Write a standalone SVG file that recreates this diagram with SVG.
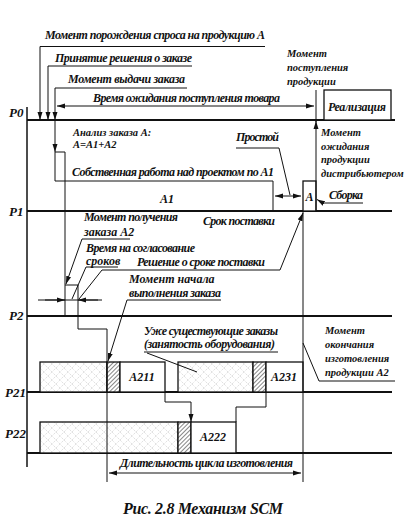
<svg xmlns="http://www.w3.org/2000/svg" width="416" height="523" viewBox="0 0 416 523">
<defs>
<style>
text{font-family:'Liberation Serif','DejaVu Serif',serif;font-style:italic;font-weight:700;font-size:12px;fill:#111}
.s{font-size:10.5px}
.p{font-size:13px}
.cap{font-size:16px}
.ln{stroke:#111;stroke-width:1;fill:none}
.th{stroke:#111;stroke-width:1.8;fill:none}
.ax{stroke:#111;stroke-width:1.5;fill:none}
.box{stroke:#111;stroke-width:1.3;fill:#fff}
.arr{marker-end:url(#ah)}
</style>
<marker id="ah" markerWidth="8" markerHeight="6" refX="8" refY="3" orient="auto" markerUnits="userSpaceOnUse">
<path d="M0,0.5 L8,3 L0,5.5 z" fill="#111"/>
</marker>
<marker id="as" markerWidth="8" markerHeight="6" refX="0" refY="3" orient="auto" markerUnits="userSpaceOnUse">
<path d="M8,0.5 L0,3 L8,5.5 z" fill="#111"/>
</marker>
<pattern id="cross" width="8" height="8" patternUnits="userSpaceOnUse">
<rect width="8" height="8" fill="#fff"/>
<path d="M0,8 L8,0 M0,0 L8,8" stroke="#b8b8b8" stroke-width="0.6" stroke-dasharray="1,1.2"/>
</pattern>
<pattern id="hatch" width="3" height="3" patternUnits="userSpaceOnUse" patternTransform="rotate(45)">
<rect width="3" height="3" fill="#fff"/>
<line x1="0" y1="0" x2="0" y2="3" stroke="#222" stroke-width="1.1"/>
</pattern>
</defs>

<g id="axes">
<line class="ax" x1="27" y1="107" x2="27" y2="467"/>
<line class="th" x1="27" y1="120" x2="395" y2="120"/>
<line class="th" x1="27" y1="211" x2="392" y2="211"/>
<line class="th" x1="27" y1="316" x2="392" y2="316"/>
<line class="th" x1="27" y1="392" x2="392" y2="392"/>
<line class="th" x1="27" y1="453" x2="392" y2="453"/>
<text class="p" x="9" y="117">P0</text>
<text class="p" x="9" y="216">P1</text>
<text class="p" x="9" y="320">P2</text>
<text class="p" x="5" y="397">P21</text>
<text class="p" x="5" y="438">P22</text>
</g>

<g id="n-realizatsiya">
<rect class="box" x="324" y="90" width="67" height="30"/>
<text x="357" y="111" text-anchor="middle" textLength="58">Реализация</text>
</g>

<g id="n-A-block">
<rect class="box" x="303" y="181" width="13" height="30"/>
<text x="305.5" y="201">A</text>
</g>

<g id="n-P21">
<rect x="40" y="362" width="67" height="30" fill="url(#cross)" stroke="#111" stroke-width="1.3"/>
<rect x="107" y="362" width="13" height="30" fill="url(#hatch)" stroke="#111" stroke-width="1.3"/>
<rect class="box" x="120" y="362" width="45" height="30"/>
<text x="142" y="381" text-anchor="middle">A211</text>
<rect x="178" y="362" width="75" height="30" fill="url(#cross)" stroke="#111" stroke-width="1.3"/>
<rect x="253" y="362" width="13" height="30" fill="url(#hatch)" stroke="#111" stroke-width="1.3"/>
<rect class="box" x="266" y="362" width="37" height="30"/>
<text x="284" y="381" text-anchor="middle">A231</text>
</g>

<g id="n-P22">
<rect x="40" y="422" width="138" height="31" fill="url(#cross)" stroke="#111" stroke-width="1.3"/>
<rect x="178" y="422" width="13" height="31" fill="url(#hatch)" stroke="#111" stroke-width="1.3"/>
<rect class="box" x="191" y="422" width="45" height="31"/>
<text x="213" y="441" text-anchor="middle">A222</text>
</g>

<g id="connectors">
<polyline class="ln" points="265,46.5 40,46.5 40,120" style="marker-end:url(#ah)"/>
<polyline class="ln" points="192,66 48,66 48,120" style="marker-end:url(#ah)"/>
<polyline class="ln" points="187,88 55,88 55,120" style="marker-end:url(#ah)"/>
<line class="ln arr" x1="55" y1="120" x2="55" y2="152"/>
<line class="ln" x1="55" y1="152" x2="55" y2="181"/>
<line class="ln" x1="57" y1="106" x2="314" y2="106" style="marker-start:url(#as);marker-end:url(#ah)"/>
<line class="ln" x1="316" y1="90" x2="316" y2="122"/>
<line class="ln arr" x1="316" y1="211" x2="316" y2="121"/>
<polyline class="ln" points="55,181 273,181 273,211"/>
<polyline class="ln" points="55,152 65,152 65,316"/>
<line class="ln" x1="275" y1="196" x2="301" y2="196" style="marker-start:url(#as);marker-end:url(#ah)"/>
<polyline class="ln" points="236,148 279,148 290,195"/>
<polyline class="ln arr" points="363,203 323,203 317,199.5"/>
<line class="ln" x1="303" y1="211" x2="303" y2="482"/>
<polyline class="ln" points="65,285 78,285 78,329 107,329 107,482"/>
<polyline class="ln arr" points="130,239 82,239 66,284"/>
<line class="ln" x1="38" y1="300" x2="102" y2="300"/>
<line class="ln arr" x1="45" y1="300" x2="65" y2="300"/>
<line class="ln arr" x1="98" y1="300" x2="78" y2="300"/>
<polyline class="ln" points="118,267 86,267 72,299"/>
<polyline class="ln arr" points="79,299 102,270 280,270 303,213"/>
<polyline class="ln arr" points="221,300 127,300 108,361"/>
<polyline class="ln arr" points="165,392 165,402 191,402 191,422"/>
<polyline class="ln" points="266,392 266,407 236,407 236,422"/>
<polyline class="ln" points="278,352 144,352"/>
<line class="ln" x1="147" y1="353" x2="197" y2="372"/>
<polyline class="ln" points="395,381 319,381 303,343"/>
<line class="ln" x1="109" y1="473" x2="301" y2="473" style="marker-start:url(#as);marker-end:url(#ah)"/>
</g>

<g id="labels">
<text x="45" y="39" textLength="220">Момент порождения спроса на продукцию А</text>
<text x="55" y="62" textLength="137">Принятие решения о заказе</text>
<text x="68" y="83" textLength="117">Момент выдачи заказа</text>
<text x="93" y="102" textLength="187">Время ожидания поступления товара</text>
<text class="s" x="287" y="57">Момент</text>
<text class="s" x="287" y="71">поступления</text>
<text class="s" x="287" y="85">продукции</text>
<text class="s" x="73" y="136">Анализ заказа A:</text>
<text class="s" x="73" y="148">A=A1+A2</text>
<text x="72" y="176" textLength="202">Собственная работа над проектом по A1</text>
<text x="160" y="203">A1</text>
<text x="236" y="141" textLength="43">Простой</text>
<text class="s" x="321" y="136">Момент</text>
<text class="s" x="321" y="150">ожидания</text>
<text class="s" x="321" y="163">продукции</text>
<text class="s" x="321" y="177">дистрибьютером</text>
<text x="329" y="199" textLength="34">Сборка</text>
<text x="203" y="225" textLength="72">Срок поставки</text>
<text x="84" y="221" textLength="94">Момент получения</text>
<text x="84" y="236">заказа A2</text>
<text x="86" y="252" textLength="109">Время на согласование</text>
<text x="86" y="265">сроков</text>
<text x="137" y="266" textLength="128">Решение о сроке поставки</text>
<text x="129" y="283">Момент начала</text>
<text x="129" y="297" textLength="92">выполнения заказа</text>
<text x="144" y="335" textLength="134">Уже существующие заказы</text>
<text x="144" y="348" textLength="131">(занятость оборудования)</text>
<text class="s" x="325" y="334">Момент</text>
<text class="s" x="325" y="348">окончания</text>
<text class="s" x="325" y="362">изготовления</text>
<text class="s" x="325" y="376">продукции A2</text>
<text x="120" y="467" textLength="173">Длительность цикла изготовления</text>
<text class="cap" x="123" y="514" textLength="160">Рис. 2.8 Механизм SCM</text>
</g>
</svg>
